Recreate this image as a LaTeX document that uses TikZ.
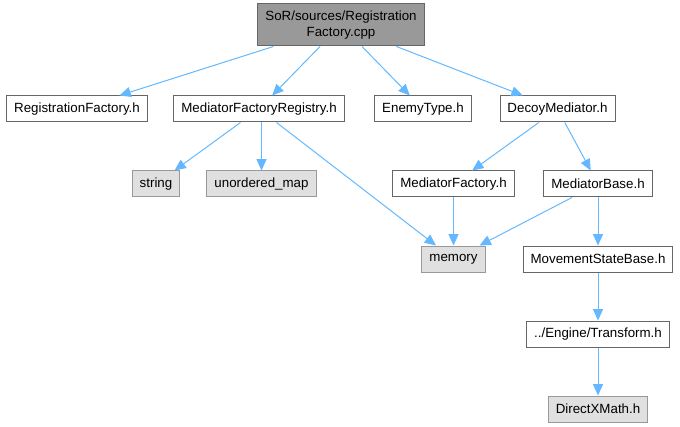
\documentclass[tikz,border=0pt]{standalone}
\usepackage{fontspec}
\setmainfont{Liberation Sans}
\usetikzlibrary{arrows.meta,positioning}
\definecolor{edgeblue}{HTML}{63B8FF}
\definecolor{boxline}{HTML}{666666}
\definecolor{extline}{HTML}{999999}
\definecolor{extfill}{HTML}{E0E0E0}
\definecolor{mainfill}{HTML}{999999}
\tikzset{
  hdr/.style={draw=boxline,fill=white,line width=0.75pt,inner xsep=5.6pt,
    minimum height=19.5pt,font=\fontsize{10}{11.5}\selectfont},
  sys/.style={hdr,draw=extline,fill=extfill},
  src/.style={hdr,fill=mainfill,align=center,minimum height=31.5pt},
  inc/.style={draw=edgeblue,line width=0.75pt,-{Triangle[length=8.5pt,width=7.5pt]}},
}

\begin{document}
\begin{tikzpicture}[x=0.75pt,y=-0.75pt,node distance=36pt]
  \useasboundingbox (0,0) rectangle (680,427);
  % the file itself
  \node[src] (cpp) at (341,25) {SoR/sources/Registration\\Factory.cpp};
  % direct includes
  \node[hdr] (regf) at (77,109) {RegistrationFactory.h};
  \node[hdr] (mfreg) at (259,109) {MediatorFactoryRegistry.h};
  \node[hdr] (enemy) at (423,109) {EnemyType.h};
  \node[hdr] (decoy) at (557.5,109) {DecoyMediator.h};
  % second level
  \node[sys] (str) at (156,184) {string};
  \node[sys] (umap) at (261.5,184) {unordered\_map};
  \node[hdr] (mfac) at (453.5,184) {MediatorFactory.h};
  \node[hdr] (mbase) at (598,184) {MediatorBase.h};
  \node[sys,below=of mfac] (mem) {memory};
  % chain down to DirectXMath
  \node[hdr,below=of mbase] (msb) {MovementStateBase.h};
  \node[hdr,below=of msb] (trans) {../Engine/Transform.h};
  \node[sys,below=of trans] (dxm) {DirectXMath.h};

  \draw[inc] (cpp) -- (regf);
  \draw[inc] (cpp) -- (mfreg);
  \draw[inc] (cpp) -- (enemy);
  \draw[inc] (cpp) -- (decoy);
  \draw[inc] (mfreg) -- (str);
  \draw[inc] (mfreg.south -| umap) -- (umap);
  \draw[inc] (mfreg) -- (mem);
  \draw[inc] (decoy) -- (mfac);
  \draw[inc] (decoy) -- (mbase);
  \draw[inc] (mfac) -- (mem);
  \draw[inc] (mbase) -- (mem);
  \draw[inc] (mbase) -- (msb);
  \draw[inc] (msb) -- (trans);
  \draw[inc] (trans) -- (dxm);
\end{tikzpicture}
\end{document}
